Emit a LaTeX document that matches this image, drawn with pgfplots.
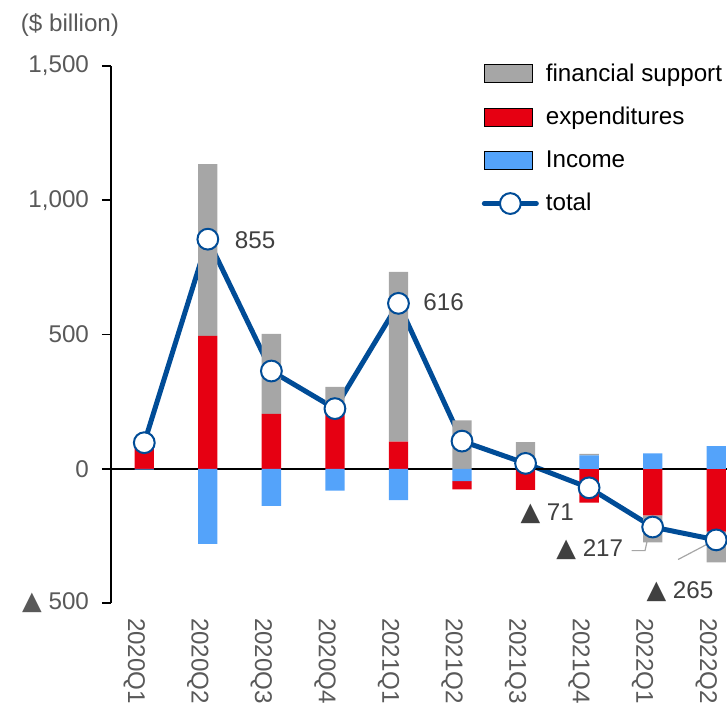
\documentclass[border=0pt]{standalone}
\usepackage{pgfplots}
\pgfplotsset{compat=1.18}
\usepackage{pgfplotstable}
\usepackage{fontspec}
\setmainfont{Liberation Sans}
\newfontfamily\dv{DejaVu Sans}
\definecolor{cgray}{RGB}{166,166,166}
\definecolor{cred}{RGB}{230,0,18}
\definecolor{cblue}{RGB}{84,163,250}
\definecolor{cline}{RGB}{0,76,151}
\definecolor{ctick}{RGB}{89,89,89}
\definecolor{clab}{RGB}{64,64,64}
\newcommand\fs{\fontsize{12.1}{14}\selectfont}
\newcommand\tri{{\dv\fontsize{12.8}{14}\selectfont ▲}}
\pgfplotsset{
  barleg/.style={legend image code/.code={\fill[##1] (0pt,-4.5pt) rectangle (24pt,4.5pt);}},
  lineleg/.style={legend image code/.code={\draw[cline, line width=2.5pt, line cap=round] (0pt,0pt) -- (26pt,0pt); \draw[cline, fill=white, line width=1pt] (13pt,0pt) circle (5.2pt);}},
}
\pgfplotstableread{
x inc exp fin tot
0 -3 90 10 97
1 -280 495 640 855
2 -138 204 298 364
3 -81 205 100 224
4 -117 101 632 616
5 -46 -31 180 103
6 0 -79 99 20
7 50 -126 5 -71
8 57 -174 -100 -217
9 84 -234 -115 -265
}\data
\begin{document}
\begin{tikzpicture}
\begin{axis}[
  scale only axis, width=308pt, height=268.5pt,
  xmin=-0.524, xmax=9.17, ymin=-500, ymax=1500,
  ybar stacked, bar width=9.65pt,
  axis lines*=left,
  x axis line style={draw=none},
  y axis line style={line width=0.9pt, black},
  xtick={0,...,9},
  xticklabels={2020Q1,2020Q2,2020Q3,2020Q4,2021Q1,2021Q2,2021Q3,2021Q4,2022Q1,2022Q2},
  xtick style={draw=none},
  xticklabel style={rotate=-90, anchor=west, font=\fs, text=ctick, yshift=-5pt, xshift=4pt},
  ytick={-500,0,500,1000,1500},
  yticklabels={\tri\ 500,0,500,{1{,}000},{1{,}500}},
  ytick align=outside,
  major tick length=4.5pt,
  ytick style={line width=0.9pt, black},
  yticklabel style={font=\fs, text=ctick, xshift=-3pt},
  clip=false,
  legend style={at={(rel axis cs:0.602,1.012)}, anchor=north west, draw=none, fill=none,
    inner sep=0pt, outer sep=0pt, font=\fs, row sep=7.5pt,
    nodes={inner sep=2pt}},
  legend cell align=left,
  /tikz/every odd column/.append style={column sep=1.5pt},
]
\addlegendimage{barleg, fill=cgray}
\addlegendentry{financial support}
\addlegendimage{barleg, fill=cred}
\addlegendentry{expenditures}
\addlegendimage{barleg, fill=cblue}
\addlegendentry{Income}
\addlegendimage{lineleg}
\addlegendentry{total}

\addplot[forget plot, fill=cblue, draw=none] table[x=x, y=inc] {\data};
\addplot[forget plot, fill=cred, draw=none] table[x=x, y=exp] {\data};
\addplot[forget plot, fill=cgray, draw=none] table[x=x, y=fin] {\data};

\draw[black, line width=0.8pt] (axis cs:-0.524,0) -- (axis cs:9.17,0);

\addplot[forget plot, stack plots=false, sharp plot, cline, line width=2.5pt,
  mark=*, mark size=5.2pt, mark options={fill=white, draw=cline, line width=1pt}]
  table[x=x, y=tot] {\data};

\draw[cgray, line width=0.6pt] (axis cs:7.67,-305) -- (axis cs:7.88,-305) -- (axis cs:7.96,-218);
\draw[cgray, line width=0.6pt] (axis cs:8.40,-338) -- (axis cs:8.98,-266);

\node[font=\fs, text=clab] at (axis cs:1.745,853) {855};
\node[font=\fs, text=clab] at (axis cs:4.71,620) {616};
\node[font=\fs, text=clab] at (axis cs:6.34,-166) {\tri\ 71};
\node[font=\fs, text=clab] at (axis cs:7.01,-301) {\tri\ 217};
\node[font=\fs, text=clab] at (axis cs:8.43,-456) {\tri\ 265};
\node[font=\fs, text=ctick] at (axis cs:-1.17,1651) {(\$ billion)};
\end{axis}
\pgfresetboundingbox
\path (-55.5pt,-49.5pt) rectangle (308pt,301.5pt);
\end{tikzpicture}
\end{document}
